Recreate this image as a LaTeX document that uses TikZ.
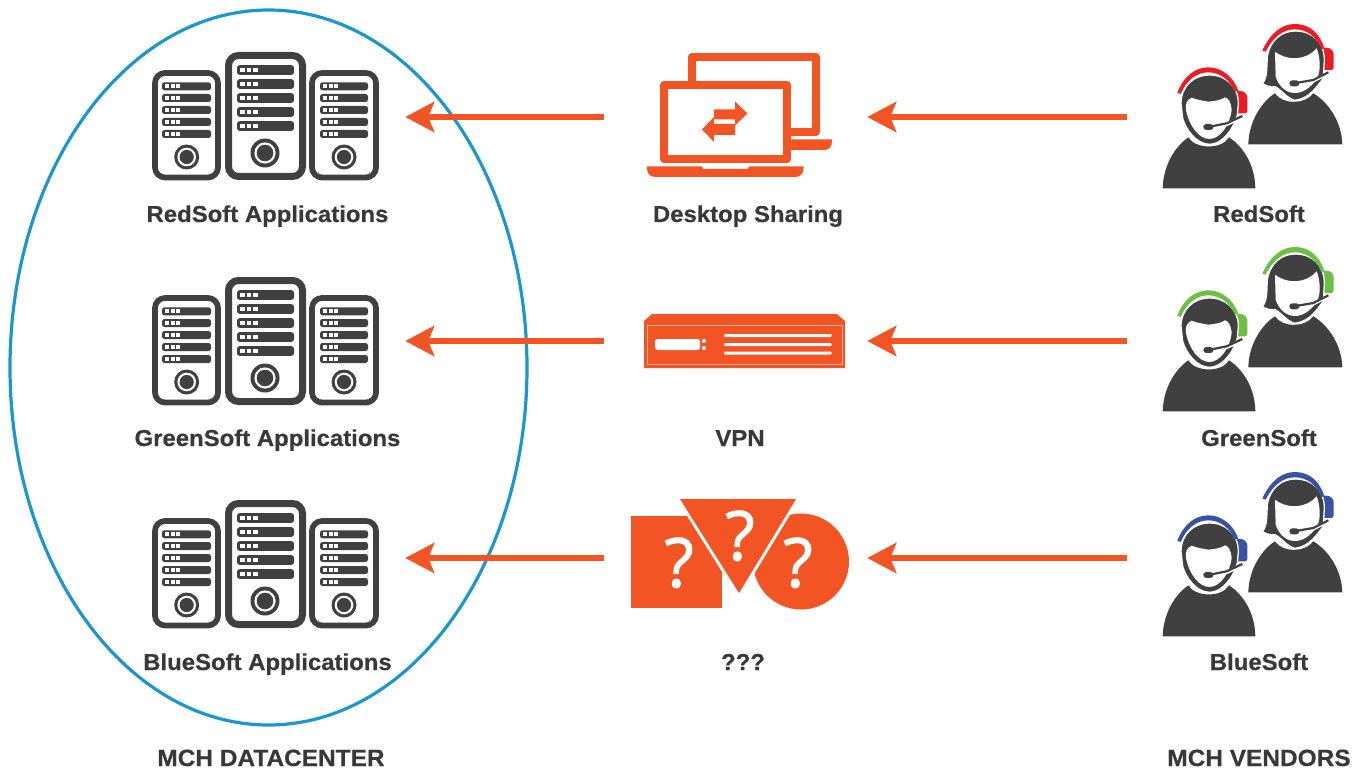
\documentclass[tikz,border=0pt]{standalone}
\usepackage{fontspec}
\setmainfont{Liberation Sans}
\newfontfamily\labfont{Liberation Sans Bold}[FakeStretch=1.04,FakeBold=0.5]
\newfontfamily\qfont{Open Sans}[FakeBold=1.6]
\usetikzlibrary{arrows.meta,shapes.geometric}
\definecolor{org}{HTML}{F25423}
\definecolor{drk}{HTML}{404040}
\definecolor{txt}{HTML}{383838}
\definecolor{ringblue}{HTML}{1A96D0}
\definecolor{hsred}{HTML}{ED1C24}
\definecolor{hsgreen}{HTML}{6CBE45}
\definecolor{hsblue}{HTML}{3853A4}
\tikzset{
 lab/.style={font=\labfont\fontsize{23}{25}\selectfont,text=txt,inner sep=0pt,anchor=base},
 biglab/.style={font=\labfont\fontsize{23.5}{25}\selectfont,text=txt,inner sep=0pt,anchor=base},
 qmark/.style={text=white,font=\qfont\fontsize{68}{68}\selectfont,inner sep=0pt,anchor=base},
 anchorbox/.style={inner sep=0pt,minimum height=8pt},
 flow/.style={draw=org,line width=6pt,-{Stealth[length=29pt,width=30pt,inset=6pt]}},
 sbar/.style={fill=drk,rounded corners=2.5pt},
 rack/.pic={
  \foreach \xa/\xb/\ya/\yb/\lw/\cx/\cy/\ra/\rb/\rc in {155/218/73/177.5/5.7/186.7/157/12.5/9.3/7.1,312/376/73/177.5/5.7/344/157/12.5/9.3/7.1,228.5/302.5/55.5/176.5/7/265/153/14.5/10.6/8.3}{
   \draw[draw=drk,line width=\lw pt,fill=white,rounded corners=10pt] (\xa,\ya) rectangle (\xb,\yb);
   \fill[drk] (\cx,\cy) circle (\ra);
   \fill[white] (\cx,\cy) circle (\rb);
   \fill[drk] (\cx,\cy) circle (\rc);
  }
  \foreach \yy in {86.3,98,110,122,134}{
   \fill[sbar] (162,\yy-4) rectangle (211,\yy+4);
   \fill[sbar] (320,\yy-4) rectangle (368,\yy+4);
   \foreach \xx in {165,170.5,176}{\fill[white] (\xx,\yy-1.9) rectangle +(4,3.8);}
   \foreach \xx in {323,328.5,334}{\fill[white] (\xx,\yy-1.9) rectangle +(4,3.8);}
  }
  \foreach \yy in {70,84,98,112,126}{
   \fill[sbar] (237,\yy-4.8) rectangle (294,\yy+4.8);
   \foreach \xx in {240,246.5,253}{\fill[white] (\xx,\yy-2.2) rectangle +(4.8,4.4);}
  }
 }
}
% one agent pair: coordinates are those of the 3x zoomed crop
\newcommand{\agents}[3]{% dx, dy, colour
\begin{scope}[shift={(#1,#2)},x=0.3333pt,y=-0.3333pt]
 % woman
 \fill[drk] (295,388) .. controls (296,320) and (335,260) .. (375,235) .. controls (395,268) and (465,270) .. (490,235) .. controls (535,262) and (575,320) .. (577,388) -- cycle;
 \fill[#3,rounded corners=2.5pt] (515,98) -- (538,98) -- (551,110) -- (551,165) -- (515,165) -- cycle;
 \filldraw[fill=drk,draw=white,line width=1.3pt] (337,205) .. controls (352,190) and (350,160) .. (352,125) .. controls (360,75) and (395,48) .. (436,48) .. controls (490,48) and (523,85) .. (523,135) -- (520,190) .. controls (500,215) and (480,250) .. (435,256) .. controls (410,250) and (395,225) .. (375,215) .. controls (360,217) and (345,212) .. (337,205) -- cycle;
 \fill[white] (375,110) .. controls (415,140) and (470,135) .. (500,100) .. controls (510,125) and (512,160) .. (505,180) .. controls (490,215) and (460,234) .. (435,234) .. controls (405,234) and (385,210) .. (377,185) -- cycle;
 \fill[#3] (337,107) .. controls (360,55) and (395,27) .. (435,27) .. controls (478,27) and (510,55) .. (523,100) -- (514,102) .. controls (500,65) and (470,43) .. (435,43) .. controls (400,43) and (370,65) .. (347,110) -- cycle;
 \draw[white,line width=3.5pt] (450,203) -- (490,197) -- (535,175);
 \draw[drk,line width=2.2pt] (432,205) -- (490,195) -- (535,172);
 \fill[drk,rounded corners=3pt] (418,196) rectangle (448,214);
 % man
 \fill[drk] (38,520) .. controls (40,450) and (75,395) .. (115,367) .. controls (135,402) and (215,405) .. (237,367) .. controls (280,395) and (315,450) .. (316,520) -- cycle;
 \fill[#3,rounded corners=2.5pt] (255,228) -- (279,228) -- (292,240) -- (292,295) -- (255,295) -- cycle;
 \filldraw[fill=drk,draw=white,line width=1.3pt] (93,265) .. controls (93,215) and (130,180) .. (179,180) .. controls (228,180) and (265,215) .. (265,265) -- (262,300) .. controls (250,345) and (215,388) .. (179,388) .. controls (140,388) and (108,345) .. (98,310) -- cycle;
 \fill[white] (108,285) .. controls (106,265) and (110,255) .. (125,248) .. controls (140,255) and (165,258) .. (175,260) .. controls (195,258) and (215,255) .. (225,247) .. controls (235,250) and (242,258) .. (245,285) .. controls (240,330) and (210,372) .. (178,372) .. controls (148,372) and (118,335) .. (108,285) -- cycle;
 \fill[#3] (82,233) .. controls (100,185) and (135,157) .. (175,157) .. controls (215,157) and (250,185) .. (265,227) -- (255,230) .. controls (240,195) and (210,172) .. (175,172) .. controls (140,172) and (110,195) .. (92,237) -- cycle;
 \draw[white,line width=3.5pt] (195,333) -- (230,328) -- (277,306);
 \draw[drk,line width=2.2pt] (175,336) -- (230,325) -- (277,303);
 \fill[drk,rounded corners=3pt] (160,327) rectangle (190,345);
\end{scope}}
\begin{document}
\begin{tikzpicture}[x=1pt,y=-1pt]
\useasboundingbox (0,0) rectangle (1359,770);
% Ellipse
\node[draw=ringblue,line width=3.2pt,ellipse,inner sep=0pt,minimum width=517pt,minimum height=715pt] (dc) at (268.5,367.5) {};
% Server racks
\pic at (0,0) {rack};
\pic at (0,225) {rack};
\pic at (0,448) {rack};
% Agents
\agents{1150}{15}{hsred}
\agents{1150}{238}{hsgreen}
\agents{1150}{463}{hsblue}
% Laptops
\begin{scope}[org]
 \draw[line width=8pt,line join=round] (692,87) -- (692,57) -- (815.5,57) -- (815.5,132) -- (790,132);
 \fill (790,139.5) -- (832,139.5) -- (832,141) .. controls (832,147) and (829,150) .. (824,150) -- (790,150) -- cycle;
 \draw[line width=8pt,line join=round,fill=white] (664,85) rectangle (787,159);
 \fill (647,166.5) -- (702,166.5) -- (703,169) -- (748,169) -- (749,166.5) -- (803.5,166.5) -- (803.5,168) .. controls (803.5,174) and (800,177) .. (795,177) -- (656,177) .. controls (650,177) and (647,174) .. (647,168) -- cycle;
 \fill (714,109.5) -- (735,109.5) -- (735,101.5) -- (747.5,113.5) -- (735,125.5) -- (735,119.5) -- (714,119.5) -- cycle;
 \fill (735,135) -- (714,135) -- (714,142) -- (702,129.5) -- (714,117) -- (714,124) -- (735,124) -- cycle;
\end{scope}
% VPN box
\fill[org] (644,321) -- (652,314) -- (837,314) -- (845,321) -- (845,368) -- (644,368) -- cycle;
\draw[white!55!org,line width=0.9pt] (647.5,325) rectangle (842,364);
\fill[white,rounded corners=2.5pt] (655,339) rectangle (700,350);
\fill[white] (704,341) circle (2.1) (704,348) circle (2.1);
\foreach \yy in {335.5,344.5,353}{\fill[white,rounded corners=1pt] (724,\yy-1.5) rectangle (831.5,\yy+1.5);}
% Unknown shapes
\fill[org] (630.5,516) rectangle (722,607.5);
\fill[org] (801,561.5) circle (48);
\fill[white] (674,495) -- (802,495) -- (739,599) -- cycle;
\fill[org] (680,499) -- (796,499) -- (739,593) -- cycle;
\node[qmark] (q1) at (679,587) {?};
\node[qmark] (q2) at (740,560) {?};
\node[qmark] (q3) at (798,587) {?};
% Anchors (invisible) for connectors
\node[anchorbox,minimum width=272pt] (a1) at (269,117) {};
\node[anchorbox,minimum width=272pt] (a2) at (269,341) {};
\node[anchorbox,minimum width=272pt] (a3) at (269,558) {};
\node[anchorbox,minimum width=263pt] (m1) at (735.5,117) {};
\node[anchorbox,minimum width=263pt] (m2) at (735.5,341) {};
\node[anchorbox,minimum width=263pt] (m3) at (735.5,558) {};
\node[anchorbox,minimum width=218pt] (v1) at (1236,117) {};
\node[anchorbox,minimum width=218pt] (v2) at (1236,341) {};
\node[anchorbox,minimum width=218pt] (v3) at (1236,558) {};
\foreach \n in {1,2,3}{
 \draw[flow] (m\n.west) -- (a\n.east);
 \draw[flow] (v\n.west) -- (m\n.east);
}
% Labels
\node[lab] (l1) at (267.5,222) {RedSoft Applications};
\node[lab] (l2) at (267.5,446) {GreenSoft Applications};
\node[lab] (l3) at (267.5,670) {BlueSoft Applications};
\node[lab] (l4) at (748,222) {Desktop Sharing};
\node[lab] (l5) at (740,446) {VPN};
\node[lab] (l6) at (743,670) {???};
\node[lab] (l7) at (1259,222) {RedSoft};
\node[lab] (l8) at (1259,446) {GreenSoft};
\node[lab] (l9) at (1259,670) {BlueSoft};
\node[biglab] (l10) at (271,766) {MCH DATACENTER};
\node[biglab] (l11) at (1259,766) {MCH VENDORS};
\end{tikzpicture}
\end{document}
